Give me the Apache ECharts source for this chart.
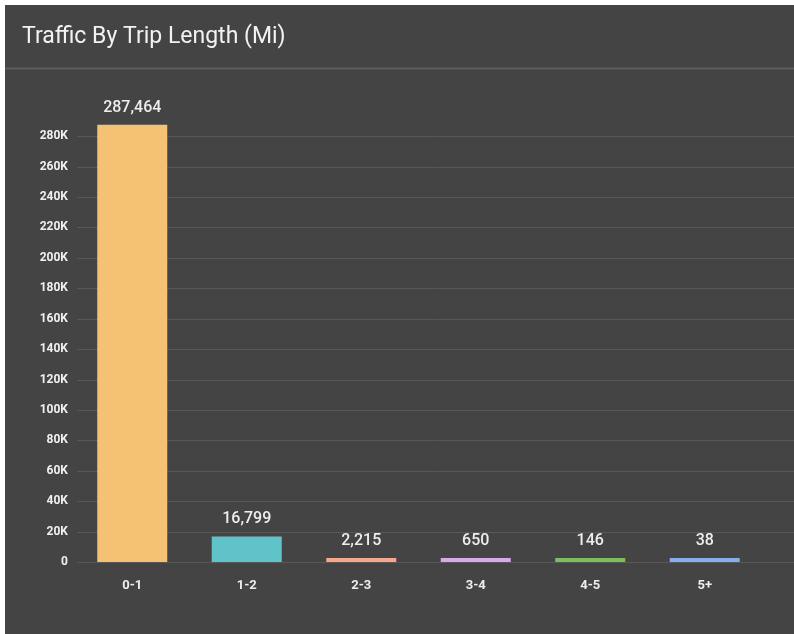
<!DOCTYPE html>
<html>
<head>
<meta charset="utf-8">
<title>Traffic By Trip Length (Mi)</title>
<script src="https://cdn.jsdelivr.net/npm/echarts@6/dist/echarts.min.js"></script>
<style>
  html, body { margin: 0; padding: 0; background: #ffffff; }
  #chart { position: absolute; left: 5px; top: 5px; width: 789px; height: 629px; }
</style>
</head>
<body>
<div id="chart"></div>
<script>
// Trip length buckets (miles) and trip counts
const categories = ['0-1', '1-2', '2-3', '3-4', '4-5', '5+'];
const tripCounts = [287464, 16799, 2215, 650, 146, 38];
const barColors = ['#F5C172', '#5FC3C9', '#F6A88B', '#DBA8EC', '#7FBE5E', '#87AEEA'];
const yTicks = [0, 20000, 40000, 60000, 80000, 100000, 120000, 140000, 160000, 180000, 200000, 220000, 240000, 260000, 280000];

const chart = echarts.init(document.getElementById('chart'), null, { renderer: 'canvas' });

const fmtK = v => (v === 0 ? '0' : (v / 1000) + 'K');
const GRID_LEFT = 70;

const baseOption = {
  backgroundColor: '#444444',
  textStyle: { fontFamily: 'Roboto' },
  title: {
    text: 'Traffic By Trip Length (Mi)',
    left: 12,
    top: 16,
    textStyle: { color: '#f2f2f2', fontSize: 23, fontWeight: 'normal', fontFamily: 'Roboto' }
  },
  grid: { left: GRID_LEFT, right: 32, top: 116, bottom: 72 },
  xAxis: {
    type: 'category',
    data: categories,
    axisLine: { show: false },
    axisTick: { show: false },
    axisLabel: { color: '#eeeeee', fontSize: 13, fontWeight: 'bold', margin: 17 }
  },
  yAxis: {
    type: 'value',
    min: 0,
    max: 290000,
    interval: 20000,
    axisLine: { show: false },
    axisTick: { show: false },
    axisLabel: {
      color: '#f0f0f0', fontSize: 12, fontWeight: 'bold', margin: 7,
      formatter: fmtK,
      showMaxLabel: false
    },
    splitLine: { show: false }
  },
  series: [{
    type: 'bar',
    barWidth: 70,
    barMinHeight: 4,
    z: 3,
    data: tripCounts.map((v, i) => ({ value: v, itemStyle: { color: barColors[i] } })),
    label: {
      show: true,
      position: 'top',
      distance: 9,
      color: '#eeeeee',
      fontSize: 16,
      fontWeight: 500,
      fontFamily: 'Roboto',
      formatter: p => p.value.toLocaleString('en-US')
    }
  }]
};
chart.setOption(baseOption);

// Horizontal grid lines run from the plot's left edge to the panel's right edge,
// placed through the y axis scale.
const width = chart.getWidth();
const gridLines = yTicks.map(t => {
  const y = Math.round(chart.convertToPixel({ yAxisIndex: 0 }, t)) + 0.5;
  return {
    type: 'line',
    z: 1,
    shape: { x1: GRID_LEFT + 2, y1: y, x2: width, y2: y },
    style: { stroke: '#585858', lineWidth: 1 }
  };
});
chart.setOption({
  graphic: [{
    type: 'line',
    z: 1,
    shape: { x1: 0, y1: 63.5, x2: width, y2: 63.5 },
    style: { stroke: '#5e5e5e', lineWidth: 2 }
  }].concat(gridLines)
});
</script>
</body>
</html>
